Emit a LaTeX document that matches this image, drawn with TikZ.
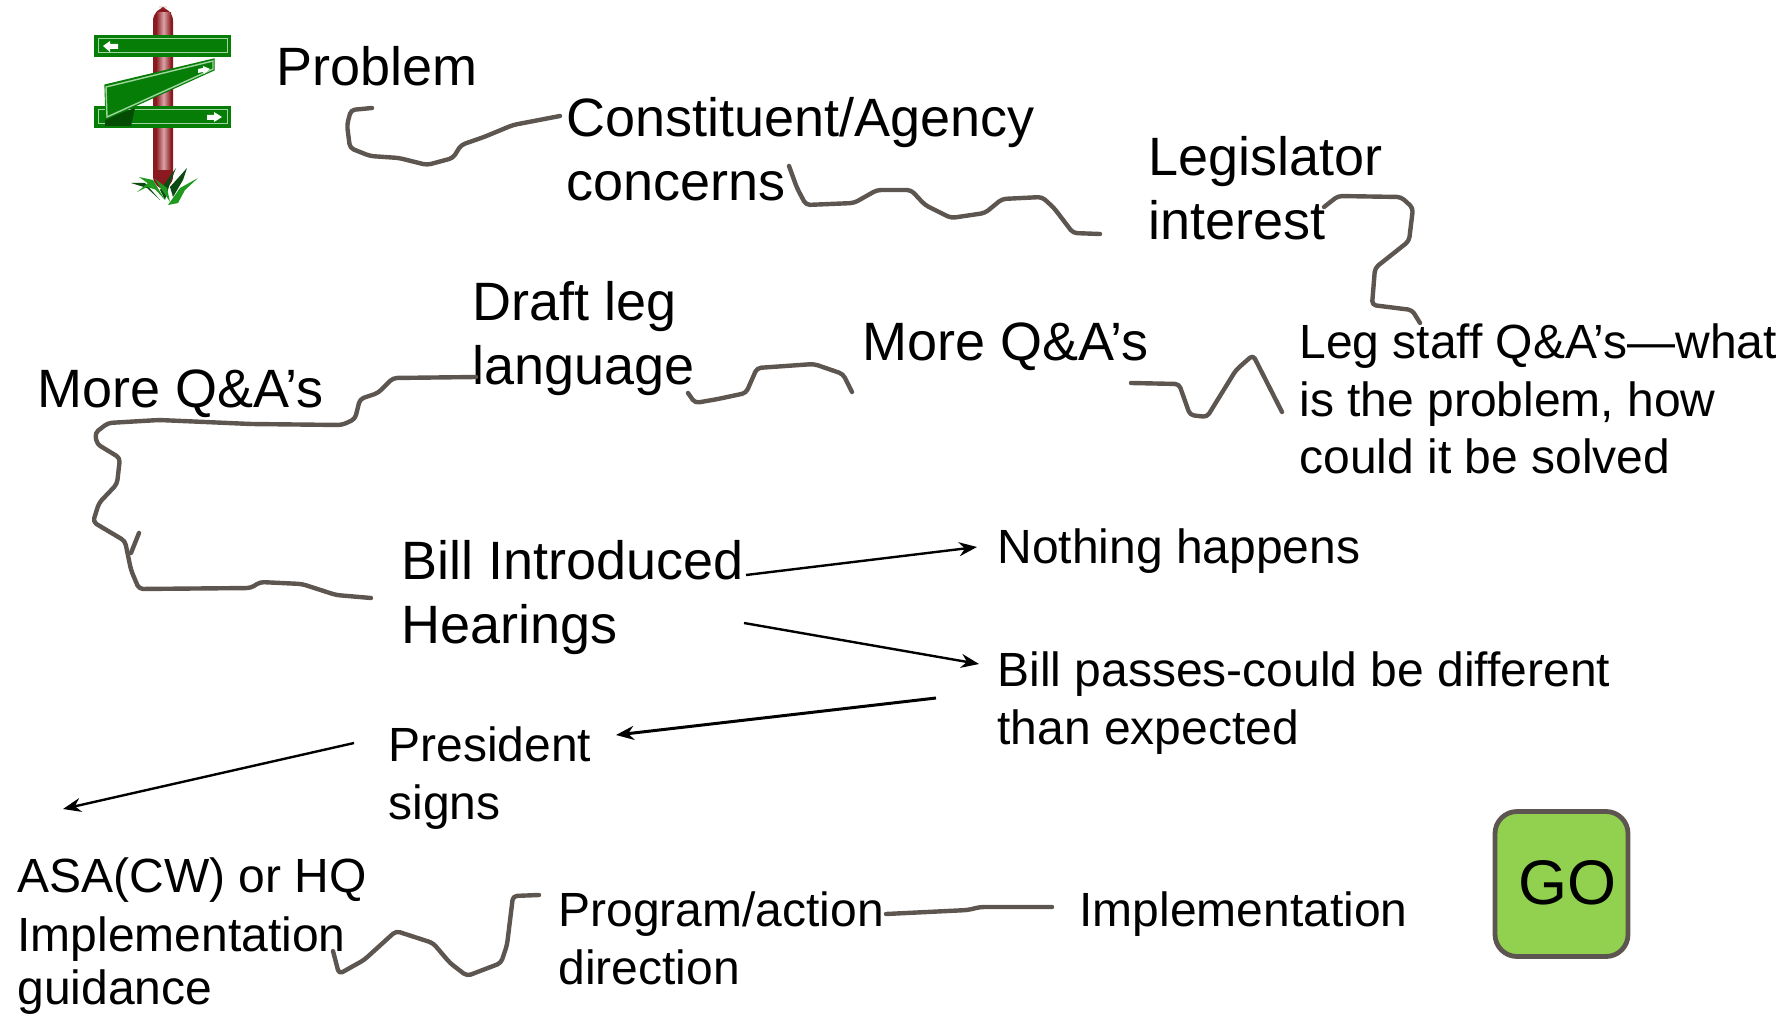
\documentclass[tikz,border=0pt]{standalone}
\usepackage{fontspec}
\setmainfont{Liberation Sans}
\usetikzlibrary{arrows.meta}
\definecolor{hand}{HTML}{5D5650}
\definecolor{gofill}{HTML}{92D050}
\definecolor{sign}{HTML}{067D06}
\definecolor{signedge}{HTML}{9FD59F}
\definecolor{pole}{HTML}{8A1A20}
\definecolor{polelight}{HTML}{D9A3A6}
\definecolor{grass}{HTML}{1F9A1F}
\definecolor{grassdark}{HTML}{0B4A12}
\tikzset{
  x=0.5pt,y=-0.5pt,
  big/.style={anchor=base west,inner sep=0pt,xshift=-0.5pt,font=\fontsize{27}{27}\selectfont},
  small/.style={anchor=base west,inner sep=0pt,xshift=-0.5pt,yshift=0.6pt,font=\fontsize{24}{24}\selectfont},
  handline/.style={draw=hand,line width=2.2pt,rounded corners=2pt,line cap=round,line join=round},
  arrowline/.style={draw=black,line width=1.2pt,-{Stealth[length=9pt,width=7pt]}},
  signboard/.style={fill=sign,draw=sign,line width=0.6pt},
  signtrim/.style={draw=signedge,line width=0.5pt},
  signarrow/.style={fill=white,draw=none},
}
\begin{document}
\begin{tikzpicture}
\useasboundingbox (0,0) rectangle (1786,1016);
% signpost
\fill[pole,rounded corners=7pt] (153,190) -- (153,7) -- (173,7) -- (173,190) -- cycle;
\path[left color=pole,right color=pole,middle color=polelight] (156,13) rectangle (171,170);
\path[signboard] (95,36) rectangle (230,56);
\draw[signtrim] (98,39) rectangle (227,53);
\path[signarrow] (103,46) -- (110,41) -- (110,44) -- (118,44) -- (118,49) -- (110,49) -- (110,52) -- cycle;
\path[signboard] (95,107) rectangle (230,127);
\draw[signtrim] (98,110) rectangle (227,124);
\path[signarrow] (222,117) -- (214,112) -- (214,115) -- (207,115) -- (207,120) -- (214,120) -- (214,122) -- cycle;
\fill[sign!60!black] (105,119) -- (135,108) -- (131,126) -- (105,126) -- cycle;
\path[signboard] (105,85) -- (214,59) -- (214,70) -- (106,119) -- cycle;
\draw[signtrim,line width=0.7pt] (106,87) -- (213,61) -- (213,69) -- (107,117) -- cycle;
\path[signarrow] (210,69) -- (203,66) -- (203,68) -- (198,69) -- (198,73) -- (203,72) -- (204,74) -- cycle;
\fill[grassdark] (131,183) -- (145,183) -- (160,200) -- (147,188) -- cycle;
\fill[grassdark] (160,190) -- (176,168) -- (170,183) -- (165,200) -- cycle;
\fill[grassdark] (170,187) -- (187,168) -- (183,180) -- (173,197) -- cycle;
\fill[grass] (139,177) -- (153,180) -- (165,200) -- (153,187) -- cycle;
\fill[grass] (137,192) -- (148,183) -- (157,190) -- (147,187) -- cycle;
\fill[grass] (155,179) -- (167,188) -- (170,202) -- (162,190) -- cycle;
\fill[grass] (168,205) -- (180,188) -- (198,178) -- (185,190) -- (178,203) -- cycle;
% text
\node[big] (problem) at (277,86) {Problem};
\node[big] (constit) at (567,137) {Constituent/Agency};
\node[big] (concerns) at (567,201) {concerns};
\node[big] (legis) at (1149,176) {Legislator};
\node[big] (interest) at (1149,240) {interest};
\node[big] (draft) at (473,320) {Draft leg};
\node[big] (language) at (473,384) {language};
\node[big] (moreb) at (863,360) {More Q\&A’s};
\node[big] (morea) at (38,407) {More Q\&A’s};
\node[small] (staffa) at (1300,360) {Leg staff Q\&A’s—what};
\node[small] (staffb) at (1300,418) {is the problem, how};
\node[small] (staffc) at (1300,475) {could it be solved};
\node[big] (bill) at (402,579) {Bill Introduced};
\node[big] (hearings) at (402,643) {Hearings};
\node[small] (nothing) at (998,565) {Nothing happens};
\node[small] (passes) at (998,688) {Bill passes-could be different};
\node[small] (than) at (998,746) {than expected};
\node[small] (president) at (389,763) {President};
\node[small] (signs) at (389,821) {signs};
\node[small] (asa) at (18,894) {ASA(CW) or HQ};
\node[small] (impl) at (18,953) {Implementation};
\node[small] (guidance) at (18,1006) {guidance};
\node[small] (program) at (559,928) {Program/action};
\node[small] (direction) at (559,986) {direction};
\node[small] (implementation) at (1080,928) {Implementation};
\node[draw=hand,fill=gofill,line width=2.4pt,rounded corners=11pt,minimum width=66.5pt,minimum height=72.5pt,inner sep=0pt,font=\fontsize{31.5}{31.5}\selectfont] (go) at (1561.5,884) {\hspace*{5.7pt}\raisebox{1.5pt}{GO}};
% connector ends
\coordinate (a1) at (372,108); \coordinate (a2) at (560,116);
\coordinate (b1) at (789,166); \coordinate (b2) at (1100,234);
\coordinate (c1) at (1324,207); \coordinate (c2) at (1420,323);
\coordinate (d1) at (1282,412); \coordinate (d2) at (1131,383);
\coordinate (e1) at (852,392); \coordinate (e2) at (688,393);
\coordinate (f1) at (476,377); \coordinate (f2) at (371,598);
\coordinate (f3) at (139,533); \coordinate (f4) at (131,553);
\coordinate (g1) at (886,914); \coordinate (g2) at (1052,907);
\coordinate (h1) at (539,895); \coordinate (h2) at (333,951);
% freehand connectors
\draw[handline] (a1) -- (351,110) -- (347,125) -- (350,148) -- (370,156) -- (399,158) -- (427,165) -- (453,158) -- (461,145) -- (484,137) -- (513,125) -- (a2);
\draw[handline] (b1) -- (797,188) -- (806,205) -- (854,203) -- (877,190) -- (911,190) -- (925,205) -- (951,218) -- (985,213) -- (1002,199) -- (1042,197) -- (1054,208) -- (1073,233) -- (b2);
\draw[handline] (c1) -- (1338,196) -- (1401,197) -- (1413,208) -- (1409,241) -- (1375,268) -- (1372,305) -- (1412,310) -- (c2);
\draw[handline] (d1) -- (1253,355) -- (1236,370) -- (1207,417) -- (1190,415) -- (1179,384) -- (d2);
\draw[handline] (e1) -- (843,374) -- (814,364) -- (757,368) -- (746,393) -- (718,399) -- (695,403) -- (e2);
\draw[handline] (f1) -- (393,378) -- (378,393) -- (360,399) -- (355,419) -- (342,425) -- (251,424) -- (159,420) -- (108,423) -- (95,433) -- (97,444) -- (120,458) -- (117,484) -- (99,503) -- (93,522) -- (125,541) -- (131,570) -- (139,589) -- (251,588) -- (260,582) -- (302,584) -- (336,595) -- (f2);
\draw[handline] (f3) -- (f4);
\draw[handline] (g1) -- (968,910) -- (980,907) -- (g2);
\draw[handline] (h1) -- (513,896) -- (507,945) -- (501,963) -- (467,976) -- (450,963) -- (433,943) -- (396,931) -- (364,960) -- (339,974) -- (h2);
% arrows
\coordinate (i1) at (746,575); \coordinate (i2) at (744,623);
\coordinate (i3) at (936,698); \coordinate (i4) at (354,743);
\coordinate (i5) at (63,809);
\draw[arrowline] (i1) -- (977,547);
\draw[arrowline] (i2) -- (979,664);
\draw[arrowline,line width=1.5pt] (i3) -- (616,735);
\draw[arrowline] (i4) -- (i5);
\end{tikzpicture}
\end{document}
